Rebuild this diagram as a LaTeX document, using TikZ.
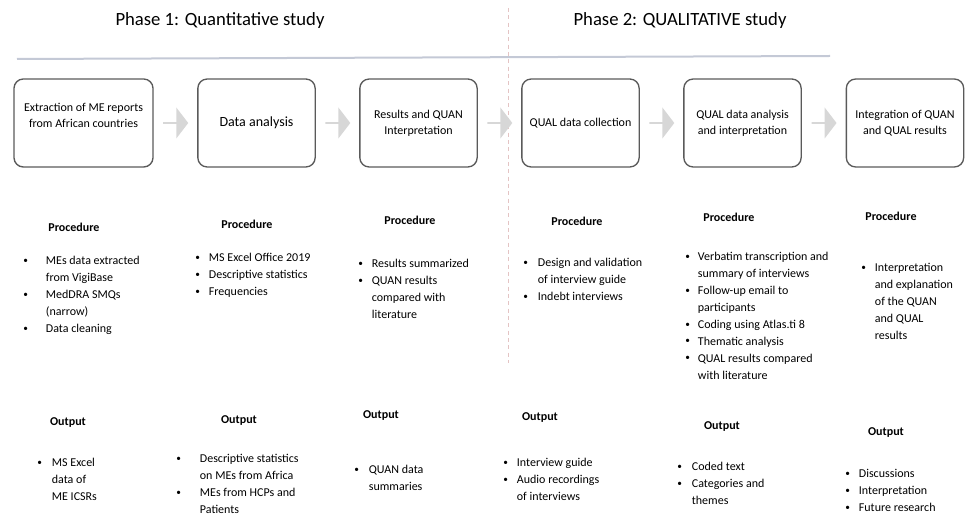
\documentclass[tikz,border=0pt]{standalone}
\usepackage{fontspec}
\setmainfont{Carlito}
\usetikzlibrary{shapes.arrows,calc}
\definecolor{edge}{RGB}{90,90,90}
\definecolor{rule}{RGB}{196,201,214}
\definecolor{split}{RGB}{228,196,196}
\definecolor{chev}{RGB}{215,215,215}
\newcommand{\bdot}{\raisebox{0.1em}{\fontsize{7}{7}\selectfont\textbullet}}
\newcommand{\blist}[2]{\begin{tabular}[t]{@{}l@{\hspace{#1}}l@{}}#2\end{tabular}}
\tikzset{
  stage/.style={draw=edge,line width=1pt,rounded corners=7pt,minimum height=66pt,
    minimum width=#1,align=center,font=\fontsize{9}{12}\selectfont},
  stage/.default=88pt,
  chevron/.style={single arrow,fill=chev,inner sep=0pt,minimum height=18.75pt,
    minimum width=23.25pt,single arrow head extend=3.75pt,single arrow tip angle=105},
  phase/.style={font=\fontsize{14}{16}\selectfont},
  head/.style={font=\bfseries\fontsize{9}{11}\selectfont},
  lst/.style={anchor=base west,inner sep=0pt,font=\fontsize{9}{12.7}\selectfont},
}
\begin{document}
\begin{tikzpicture}[x=0.75pt,y=-0.75pt]
  \useasboundingbox (0,0) rectangle (967,516);
  % phase titles and separators
  \node[phase] (p1) at (220,21) {Phase 1: Quantitative study};
  \node[phase] (p2) at (680,21) {Phase 2: QUALITATIVE study};
  \draw[rule,line width=1.5pt] (17,59) -- (830,56);
  \draw[split,dash pattern=on 3pt off 2.5pt,line width=0.6pt] (508,8) -- (508,363);
  % stages
  \node[stage=104.25pt] (s1) at (83.5,123) {Extraction of ME reports\\from African countries\\\mbox{}};
  \node[stage,font=\fontsize{10.5}{12}\selectfont] (s2) at (256.5,123) {Data analysis};
  \foreach \n/\x/\t in {3/418.5/Results and QUAN\\Interpretation,
      4/580.5/QUAL data collection,
      5/742.5/QUAL data analysis\\and interpretation,
      6/905/Integration of QUAN\\and QUAL results}
    \node[stage] (s\n) at (\x,123) {\t};
  \foreach \a/\b in {1/2,2/3,3/4,4/5,5/6}
    \node[chevron] (c\a) at ($(s\a.east)!0.5!(s\b.west)$) {};
  % headings
  \foreach \n/\x/\y in {1/74/227,2/247/224,3/410/220,4/577/221,5/729/217,6/891/216}
    \node[head] (pr\n) at (\x,\y) {Procedure};
  \foreach \n/\x/\y in {1/68/423,2/239/421,3/381/416,4/540/418,5/722/427,6/886/433}
    \node[head] (out\n) at (\x,\y) {Output};
  % procedure lists
  \node[lst] (l1) at (23,264.5) {\blist{13.5pt}{\bdot & MEs data extracted\\ & from VigiBase\\
    \bdot & MedDRA SMQs\\ & (narrow)\\ \bdot & Data cleaning}};
  \node[lst] (l2) at (195,261.5) {\blist{6.75pt}{\bdot & MS Excel Office 2019\\
    \bdot & Descriptive statistics\\ \bdot & Frequencies}};
  \node[lst] (l3) at (358,267.5) {\blist{6.75pt}{\bdot & Results summarized\\
    \bdot & QUAN results\\ & compared with\\ & literature}};
  \node[lst] (l4) at (523,266.5) {\blist{7.5pt}{\bdot & Design and validation\\ & of interview guide\\
    \bdot & Indebt interviews}};
  \node[lst] (l5) at (685,260.5) {\blist{6pt}{\bdot & Verbatim transcription and\\ & summary of interviews\\
    \bdot & Follow-up email to\\ & participants\\ \bdot & Coding using Atlas.ti 8\\
    \bdot & Thematic analysis\\ \bdot & QUAL results compared\\ & with literature}};
  \node[lst] (l6) at (861,271.5) {\blist{6.75pt}{\bdot & Interpretation\\ & and explanation\\
    & of the QUAN\\ & and QUAL\\ & results}};
  % output lists
  \node[lst] (o1) at (37,466.5) {\blist{7.5pt}{\bdot & MS Excel\\ & data of\\ & ME ICSRs}};
  \node[lst] (o2) at (176,462.5) {\blist{14.25pt}{\bdot & Descriptive statistics\\ & on MEs from Africa\\
    \bdot & MEs from HCPs and\\ & Patients}};
  \node[lst] (o3) at (354,473.5) {\blist{7.5pt}{\bdot & QUAN data\\ & summaries}};
  \node[lst] (o4) at (503,466.5) {\blist{6.75pt}{\bdot & Interview guide\\
    \bdot & Audio recordings\\ & of interviews}};
  \node[lst] (o5) at (677,470.5) {\blist{7.5pt}{\bdot & Coded text\\
    \bdot & Categories and\\ & themes}};
  \node[lst] (o6) at (845,477.5) {\blist{6.75pt}{\bdot & Discussions\\
    \bdot & Interpretation\\ \bdot & Future research}};
\end{tikzpicture}
\end{document}
